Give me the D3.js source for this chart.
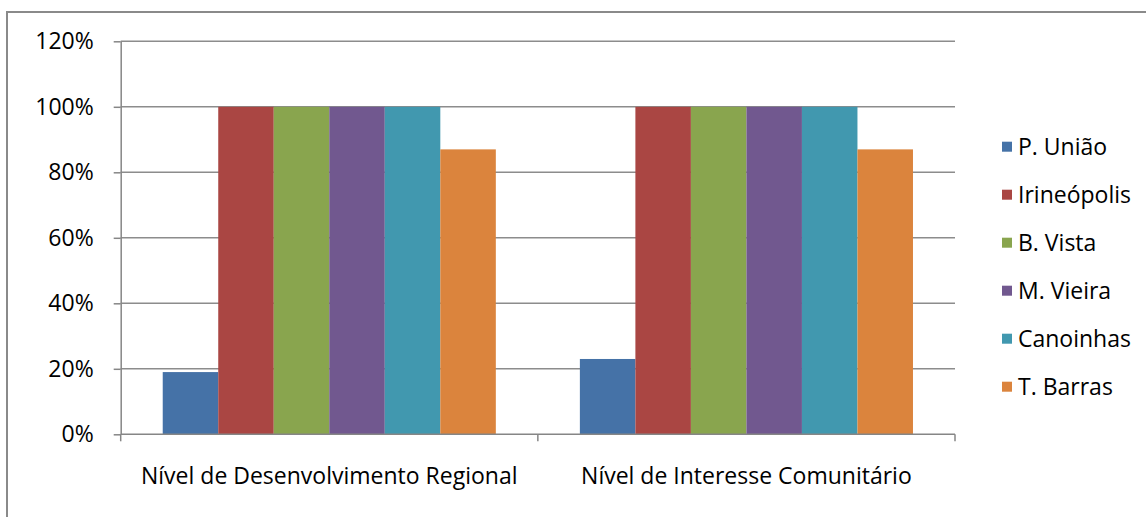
<!DOCTYPE html>
<html>
<head>
<meta charset="utf-8">
<script src="https://cdn.jsdelivr.net/npm/d3@7"></script>
<style>
  html, body { margin: 0; padding: 0; background: #fff; }
  svg { display: block; }
  text { font-family: "Open Sans", "Noto Sans", sans-serif; fill: #000; }
</style>
</head>
<body>
<svg id="chart" width="1146" height="517"></svg>
<script>
// Categories on the x axis
const categories = ["Nível de Desenvolvimento Regional", "Nível de Interesse Comunitário"];
// Municipalities (one bar per series in each category)
const seriesNames = ["P. União", "Irineópolis", "B. Vista", "M. Vieira", "Canoinhas", "T. Barras"];
// Share per municipality, in percent, for each category
const valuesDesenvolvimento = [19, 100, 100, 100, 100, 87];
const valuesInteresse = [23, 100, 100, 100, 100, 87];
const seriesColors = ["#4572A7", "#AA4643", "#89A54E", "#71588F", "#4198AF", "#DB843D"];
const yTicks = [0, 20, 40, 60, 80, 100, 120];

const rows = categories.map((c, i) => ({
  category: c,
  values: [valuesDesenvolvimento, valuesInteresse][i]
}));

const svg = d3.select("#chart");
const fontSize = 23;

// Outer chart frame
svg.append("rect")
  .attr("x", 7).attr("y", 12)
  .attr("width", 1160).attr("height", 520)
  .attr("fill", "none").attr("stroke", "#8a8a8a").attr("stroke-width", 2);

const plot = { left: 120.7, right: 955, top: 41.3, bottom: 434.3 };

const x0 = d3.scaleBand().domain(categories).range([plot.left, plot.right]).paddingInner(0).paddingOuter(0);
// Bars touch each other; gap of ~0.76 bar widths on each side of a group
const x1 = d3.scaleBand().domain(seriesNames).range([0, x0.bandwidth()]).paddingInner(0).paddingOuter(0.757);
const y = d3.scaleLinear().domain([0, 120]).range([plot.bottom, plot.top]);

// Horizontal gridlines
svg.append("g")
  .selectAll("line")
  .data(yTicks.filter(t => t > 0))
  .join("line")
  .attr("x1", plot.left).attr("x2", plot.right)
  .attr("y1", d => y(d)).attr("y2", d => y(d))
  .attr("stroke", "#8c8c8c").attr("stroke-width", 1.5);

// Bars
const groups = svg.append("g")
  .selectAll("g")
  .data(rows)
  .join("g")
  .attr("transform", d => `translate(${x0(d.category)},0)`);

groups.selectAll("rect")
  .data(d => d.values.map((v, i) => ({ name: seriesNames[i], value: v, color: seriesColors[i] })))
  .join("rect")
  .attr("x", d => x1(d.name))
  .attr("width", x1.bandwidth())
  .attr("y", d => y(d.value))
  .attr("height", d => y(0) - y(d.value))
  .attr("fill", d => d.color);

// Y axis
const yAxis = svg.append("g")
  .attr("transform", `translate(${plot.left},0)`)
  .call(d3.axisLeft(y).tickValues(yTicks).tickFormat(d => d + "%").tickSize(7).tickSizeOuter(0).tickPadding(20));
yAxis.select(".domain").attr("stroke", "#868686").attr("stroke-width", 1.5);
yAxis.selectAll(".tick line").attr("stroke", "#868686").attr("stroke-width", 1.5);
yAxis.selectAll("text").attr("font-size", fontSize).attr("font-family", "Open Sans").attr("fill", "#000");

// X axis with tick marks at category boundaries
const xAxisG = svg.append("g");
xAxisG.append("line")
  .attr("x1", plot.left).attr("x2", plot.right)
  .attr("y1", plot.bottom).attr("y2", plot.bottom)
  .attr("stroke", "#868686").attr("stroke-width", 1.5);
const boundaries = categories.map(c => x0(c)).concat([x0(categories[categories.length - 1]) + x0.bandwidth()]);
xAxisG.selectAll("line.tk")
  .data(boundaries)
  .join("line")
  .attr("class", "tk")
  .attr("x1", d => d).attr("x2", d => d)
  .attr("y1", plot.bottom).attr("y2", plot.bottom + 7)
  .attr("stroke", "#868686").attr("stroke-width", 1.5);
xAxisG.selectAll("text")
  .data(categories)
  .join("text")
  .attr("x", d => x0(d) + x0.bandwidth() / 2)
  .attr("y", 476)
  .attr("dy", "0.35em")
  .attr("text-anchor", "middle")
  .attr("font-size", fontSize)
  .text(d => d);

// Legend
const legend = svg.append("g")
  .selectAll("g")
  .data(seriesNames)
  .join("g")
  .attr("transform", (d, i) => `translate(1002,${146.7 + i * 48})`);
legend.append("rect")
  .attr("x", 0).attr("y", -5).attr("width", 10).attr("height", 10)
  .attr("fill", (d, i) => seriesColors[i]);
legend.append("text")
  .attr("x", 16).attr("y", 0).attr("dy", "0.35em")
  .attr("font-size", fontSize)
  .text(d => d);
</script>
</body>
</html>
